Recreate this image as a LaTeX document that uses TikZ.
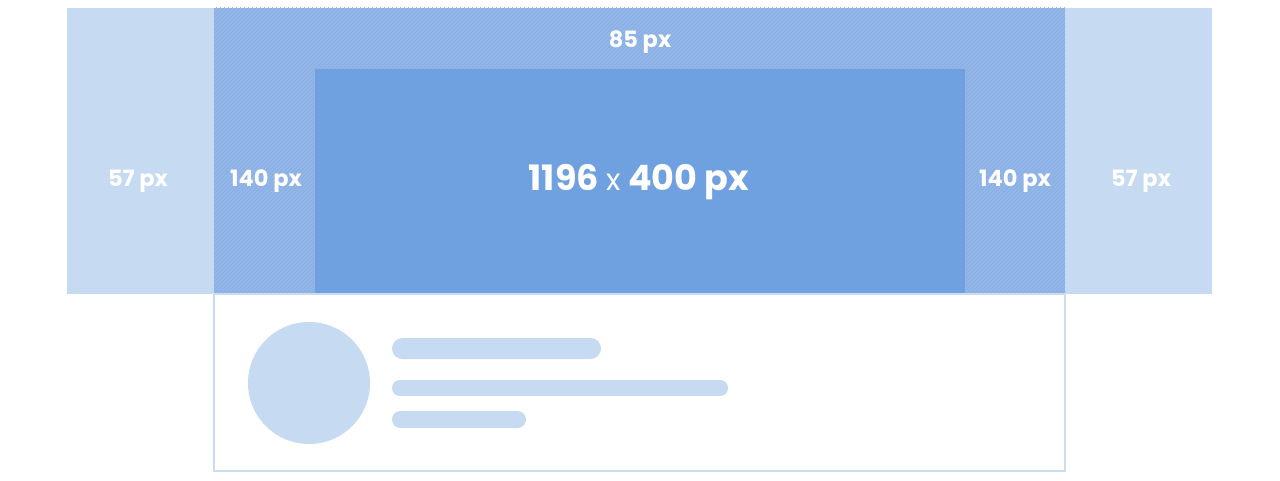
\documentclass[tikz,border=0pt]{standalone}
\usepackage{fontspec}
\setmainfont{Poppins}
\definecolor{lightb}{HTML}{C6DAF2}
\definecolor{midb}{HTML}{93B6E8}
\definecolor{hatchb}{HTML}{86ACE3}
\definecolor{innerb}{HTML}{6FA0DF}
\definecolor{borderb}{HTML}{CADCF2}
\begin{document}
\begin{tikzpicture}[x=1pt,y=-1pt,
  lbl/.style={text=white,font=\fontsize{22.5}{24}\selectfont\bfseries,inner sep=0pt},
  bigl/.style={text=white,font=\fontsize{35}{37}\selectfont\bfseries,inner sep=0pt}]
\useasboundingbox (0,0) rectangle (1280,481);
\fill[white] (0,0) rectangle (1280,481);
% outer light strip
\fill[lightb] (67,8) rectangle (1212,294);
% hatched middle
\fill[midb] (214,8) rectangle (1065,294);
\begin{scope}
\clip (214,8) rectangle (1065,294);
\foreach \i in {0,4,...,1150}{
  \draw[hatchb,line width=0.6pt] (214+\i-300,294) -- (214+\i,-6);
}
\end{scope}
% inner
\fill[innerb] (315,69) rectangle (965,294);
% profile box
\draw[borderb,line width=1.2pt] (214,294) rectangle (1065,471);
\fill[lightb] (309,383) circle (61);
\fill[lightb,rounded corners=10.5pt] (392,338) rectangle (601,359);
\fill[lightb,rounded corners=8pt] (392,380) rectangle (728,396);
\fill[lightb,rounded corners=8.5pt] (392,411) rectangle (526,428);
% labels
\node[lbl] (top) at (640,42) {85 px};
\node[lbl] (l57) at (138,181) {57 px};
\node[lbl] (l140) at (266,181) {140 px};
\node[bigl] (main) at (639,182) {1196 {\mdseries\fontsize{30}{32}\selectfont x} 400 px};
\node[lbl] (r140) at (1015,181) {140 px};
\node[lbl] (r57) at (1141,181) {57 px};
\end{tikzpicture}
\end{document}
